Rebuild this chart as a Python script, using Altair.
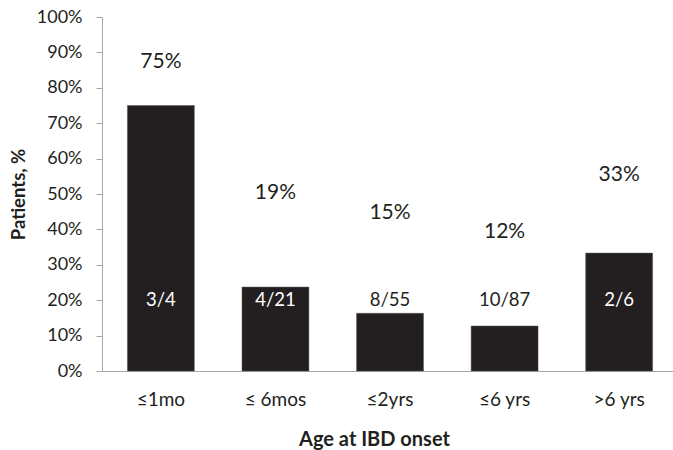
import altair as alt
import pandas as pd

categories = ["≤1mo", "≤ 6mos", "≤2yrs", "≤6 yrs", ">6 yrs"]
bar_values = [75.0, 23.7, 16.3, 12.7, 33.3]
pct_labels = ["75%", "19%", "15%", "12%", "33%"]
pct_label_pos = [87.2, 50.2, 44.6, 39.4, 55.4]
frac_labels = ["3/4", "4/21", "8/55", "10/87", "2/6"]
frac_label_pos = [20.0, 20.0, 20.0, 20.0, 20.0]
frac_inside = ["in", "in", "out", "out", "in"]
y_ticks = [0, 10, 20, 30, 40, 50, 60, 70, 80, 90, 100]

df = pd.DataFrame({
    "cat": categories,
    "val": bar_values,
    "pct": pct_labels,
    "pct_y": pct_label_pos,
    "frac": frac_labels,
    "frac_y": frac_label_pos,
    "inside": frac_inside,
})

FONT = "Lato"
DARK = "#231f20"

x_scale = alt.Scale(paddingInner=0.416, paddingOuter=0.2, align=0.555)
x_axis = alt.Axis(title="Age at IBD onset", labelAngle=0, ticks=False,
                  labelPadding=19, labelFontSize=19,
                  titleFontSize=20, titleFontWeight="bold",
                  titleX=272, titleY=74, titleBaseline="alphabetic",
                  labelColor=DARK, titleColor=DARK, domainColor="#a6a6a6",
                  labelFont=FONT, titleFont=FONT)
y_scale = alt.Scale(domain=[0, 100], nice=False)
y_axis = alt.Axis(title="Patients, %", values=y_ticks, tickCount=11,
                  labelExpr="datum.value + '%'", grid=False,
                  labelOverlap=False,
                  tickSize=6, labelPadding=14, labelFontSize=18,
                  titleFontSize=18.5, titleFontWeight="bold",
                  titlePadding=8, labelColor=DARK, titleColor=DARK,
                  domainColor="#a6a6a6", tickColor="#a6a6a6",
                  labelFont=FONT, titleFont=FONT)

base = alt.Chart(df)

bars = base.mark_bar(color=DARK, stroke="#555555", strokeWidth=0.5).encode(
    x=alt.X("cat:N", sort=categories, scale=x_scale, axis=x_axis),
    y=alt.Y("val:Q", scale=y_scale, axis=y_axis),
)

pct_text = base.mark_text(fontSize=21, font=FONT, color=DARK).encode(
    x=alt.X("cat:N", sort=categories, scale=x_scale, axis=x_axis),
    y=alt.Y("pct_y:Q", scale=y_scale, axis=y_axis),
    text="pct:N",
)

frac_text = base.mark_text(fontSize=18.5, font=FONT).encode(
    x=alt.X("cat:N", sort=categories, scale=x_scale, axis=x_axis),
    y=alt.Y("frac_y:Q", scale=y_scale, axis=y_axis),
    text="frac:N",
    color=alt.Color("inside:N", scale=alt.Scale(domain=["in", "out"], range=["#ffffff", DARK]), legend=None),
)

chart = alt.layer(bars, pct_text, frac_text).properties(
    width=571, height=354,
    autosize=alt.AutoSizeParams(type="none"),
    padding={"left": 102, "top": 17, "right": 0, "bottom": 79},
    background="white",
).configure_view(stroke=None)

chart.save("out.html", embed_options={"renderer": "svg", "actions": False})
